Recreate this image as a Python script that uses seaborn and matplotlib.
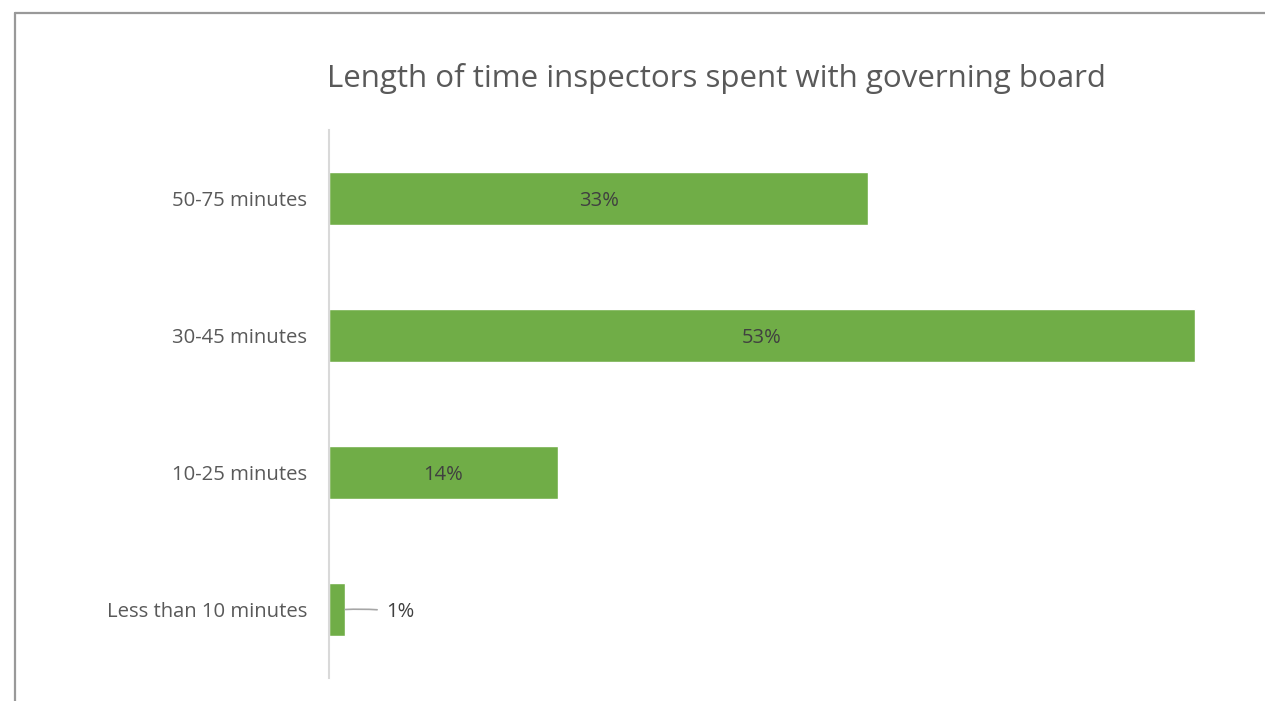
import matplotlib
matplotlib.use("Agg")
import matplotlib.pyplot as plt
import seaborn as sns
import pandas as pd

categories = ["50-75 minutes", "30-45 minutes", "10-25 minutes", "Less than 10 minutes"]
values = [33, 53, 14, 1]
labels = ["33%", "53%", "14%", "1%"]

sns.set_theme(style="white")
plt.rcParams['font.family'] = ['Open Sans', 'DejaVu Sans']

W, H = 1265, 701
fig = plt.figure(figsize=(W/100, H/100), dpi=100)
# axes: left at 329px, top 130px, bottom 678px
ax_left = 329 / W
ax_bottom = (H - 678) / H
ax_height = (678 - 130) / H
xmax = 56
ax_width = (xmax * (1195 - 329) / 53) / W
ax = fig.add_axes([ax_left, ax_bottom, ax_width, ax_height])

df = pd.DataFrame({"cat": categories, "val": values})
sns.barplot(data=df, x="val", y="cat", orient="h", color="#70AD47",
            saturation=1, width=0.39, ax=ax)

ax.set_xlim(0, xmax)
ax.set_ylim(3.5, -0.5)
ax.set_xlabel("")
ax.set_ylabel("")
ax.set_xticks([])
for s in ["top", "right", "bottom"]:
    ax.spines[s].set_visible(False)
ax.spines["left"].set_color("#D9D9D9")
ax.spines["left"].set_linewidth(1.5)
ax.tick_params(axis="y", length=0, pad=15.5, labelsize=14.6, labelcolor="#595959")

container = ax.containers[0]
for i, (bar, lab, v) in enumerate(zip(container, labels, values)):
    if i < 3:
        ax.text(v / 2, i + 0.02, lab, ha="center", va="center", fontsize=14.5, color="#404040")
    else:
        ax.annotate(lab, xy=(v, i), xytext=(v + 3.35, i + 0.02), ha="center", va="center",
                    fontsize=14.5, color="#404040",
                    arrowprops=dict(arrowstyle="-", color="#A6A6A6", lw=1.2,
                                    shrinkA=4, shrinkB=0,
                                    connectionstyle="arc3,rad=0.05"))

fig.text(716 / W, 1 - 79 / H, "Length of time inspectors spent with governing board",
         ha="center", va="center", fontsize=22.5, color="#595959")

# outer border lines (top and left)
fig.add_artist(plt.Line2D([15 / W, 1], [1 - 13 / H, 1 - 13 / H], transform=fig.transFigure,
                          color="#999999", lw=1.6))
fig.add_artist(plt.Line2D([15 / W, 15 / W], [0, 1 - 13 / H], transform=fig.transFigure,
                          color="#999999", lw=1.6))

fig.savefig("out.png", dpi=100, facecolor="white")
